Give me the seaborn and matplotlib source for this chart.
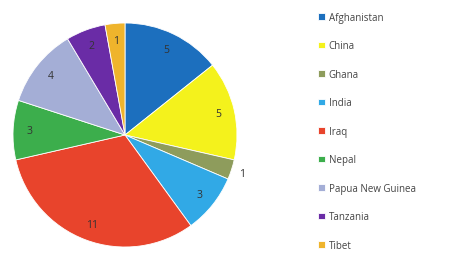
import numpy as np
import matplotlib
matplotlib.use("Agg")
import matplotlib.pyplot as plt
import seaborn as sns

# ── Data ────────────────────────────────────────────────
countries = ["Afghanistan", "China", "Ghana", "India", "Iraq",
             "Nepal", "Papua New Guinea", "Tanzania", "Tibet"]
counts = [5, 5, 1, 3, 11, 3, 4, 2, 1]
colors = ["#1c6fbe", "#f4f21c", "#8e9c5c", "#31a9e6", "#e8442c",
          "#3cae4c", "#a4aed6", "#6a2ca6", "#efb42c"]
# ────────────────────────────────────────────────────────

sns.set_style("white")
plt.rcParams["font.family"] = ["Open Sans", "DejaVu Sans"]

fig = plt.figure(figsize=(4.54, 2.55), dpi=100)
ax = fig.add_axes([13 / 454, 7 / 255, 224 / 454, 224 / 255])

wedges, _ = ax.pie(counts, colors=colors, startangle=90, counterclock=False,
                   wedgeprops=dict(edgecolor="white", linewidth=0.6))
ax.set_xlim(-1, 1)
ax.set_ylim(-1, 1)
ax.set_aspect("equal")

# value labels inside the slices (Ghana's sits just outside)
for w, v, name in zip(wedges, counts, countries):
    mid = np.deg2rad((w.theta1 + w.theta2) / 2)
    r = 1.1 if name == "Ghana" else 0.85
    ax.text(r * np.cos(mid), r * np.sin(mid), str(v), ha="center",
            va="center", fontsize=7.5, color="#333333", clip_on=False)

leg = fig.legend(wedges, countries, loc="upper left",
                 bbox_to_anchor=(312 / 454, 0.975), frameon=False,
                 fontsize=7, handlelength=0.65, handleheight=0.65,
                 handletextpad=0.4, labelspacing=1.8, borderaxespad=0.25)
for t in leg.get_texts():
    t.set_color("#444444")

fig.savefig("out.png", dpi=100)
